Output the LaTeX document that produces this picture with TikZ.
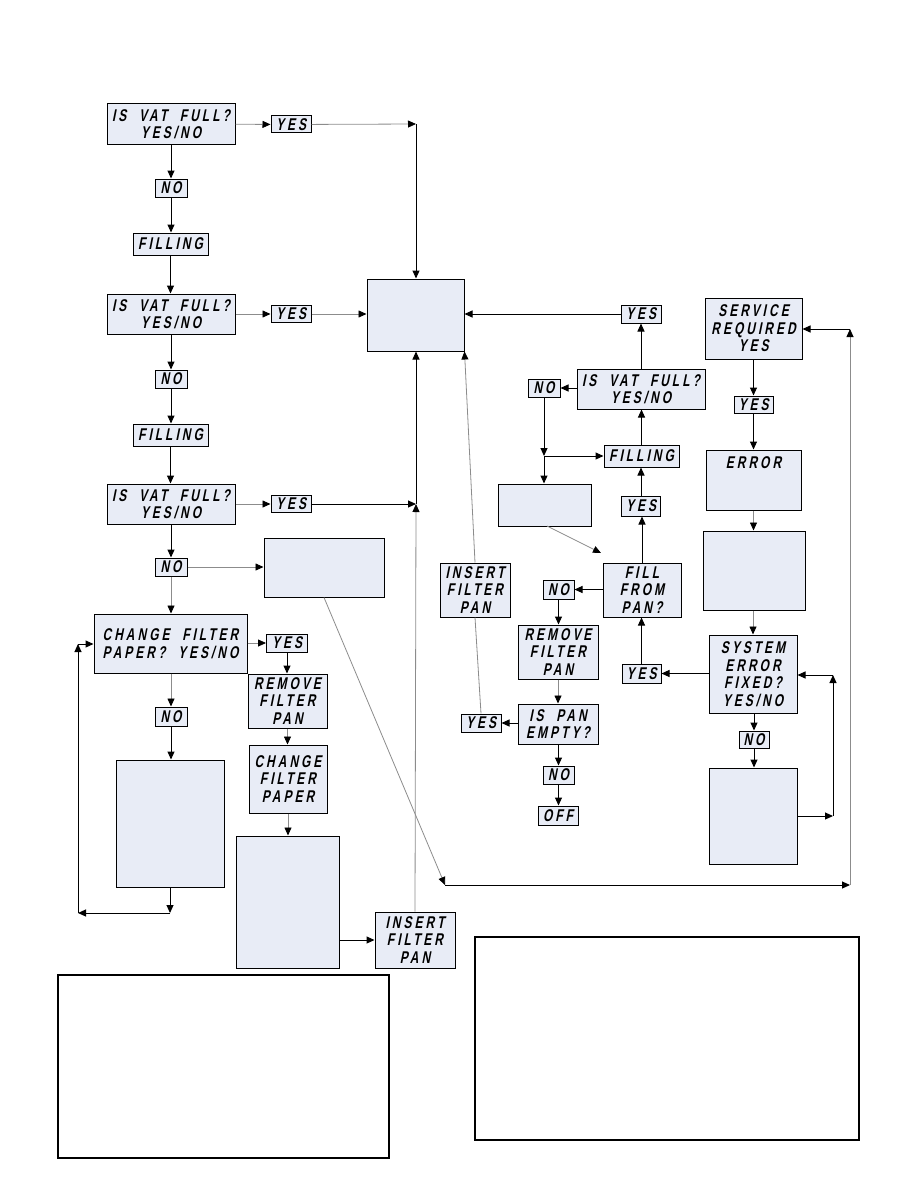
\documentclass[tikz,border=0pt]{standalone}
\usepackage{fontspec}
\usetikzlibrary{arrows.meta}
\newfontfamily\lcdface[FakeSlant=0.2, FakeStretch=0.7, LetterSpace=18, WordSpace=2]{Liberation Sans Bold}
\newcommand{\lcdtext}{\lcdface\fontsize{17}{17.5}\selectfont}
\definecolor{lcdfill}{RGB}{232,236,246}

\begin{document}
\begin{tikzpicture}[
    x=1pt, y=-1pt,
    % display boxes and connectors
    lcd/.style={rectangle, draw, fill=lcdfill, line width=1pt, inner sep=0pt, align=center, font=\lcdtext},
    sz/.style 2 args={minimum width=#1pt, minimum height=#2pt},
    note/.style={draw, line width=1.2pt},
    flow/.style={-{Triangle[length=8pt,width=7pt,color=black]}, draw, line width=1pt},
    thin/.style={flow, draw=black!45, line width=0.8pt},
    link/.style={draw=black!45, line width=0.8pt}
  ]
  \useasboundingbox (0,0) rectangle (918,1188);

  % Left column: filling the vat
  \node[lcd, sz={128}{40}] (vat1) at (171,124) {IS VAT FULL?\\YES/NO};
  \node[lcd, sz={40}{17}] (yes1) at (291,124.5) {YES};
  \node[lcd, sz={32}{18}] (no1) at (171,188) {NO};
  \node[lcd, sz={75}{22}] (fil1) at (170.5,244) {FILLING};
  \node[lcd, sz={128}{40}] (vat2) at (171,314) {IS VAT FULL?\\YES/NO};
  \node[lcd, sz={40}{17}] (yes2) at (291,314) {YES};
  \node[lcd, sz={32}{18}] (no2) at (171,379) {NO};
  \node[lcd, sz={75}{22}] (fil2) at (170.5,435) {FILLING};
  \node[lcd, sz={128}{40}] (vat3) at (171,504) {IS VAT FULL?\\YES/NO};
  \node[lcd, sz={40}{17}] (yes3) at (291,504) {YES};
  \node[lcd, sz={32}{18}] (no3) at (171,567) {NO};
  \node[lcd, sz={120}{59}] (msg1) at (324,567.5) {};
  \node[lcd, sz={153}{59}] (chg) at (170.5,643.5) {CHANGE FILTER\\PAPER? YES/NO};
  \node[lcd, sz={41}{18}] (yes4) at (287,643) {YES};
  \node[lcd, sz={79}{54}] (rem1) at (287.5,701) {REMOVE\\FILTER\\PAN};
  \node[lcd, sz={78}{68}] (cfp) at (288,779) {CHANGE\\FILTER\\PAPER};
  \node[lcd, sz={103}{132}] (msg3) at (287.5,902) {};
  \node[lcd, sz={80}{56}] (ins1) at (415,940) {INSERT\\FILTER\\PAN};
  \node[lcd, sz={32}{19}] (no4) at (171,716.5) {NO};
  \node[lcd, sz={108}{127}] (msg2) at (170,823.5) {};

  % Middle: cooking state and pan fill
  \node[lcd, sz={97}{72}] (ready) at (415.5,315) {};
  \node[lcd, sz={40}{18}] (yes5) at (641,314) {YES};
  \node[lcd, sz={128}{40}] (vat4) at (641,389) {IS VAT FULL?\\YES/NO};
  \node[lcd, sz={32}{18}] (no5) at (544,388) {NO};
  \node[lcd, sz={75}{22}] (fil3) at (641.5,456) {FILLING};
  \node[lcd, sz={39}{20}] (yes6) at (641,506) {YES};
  \node[lcd, sz={93}{42}] (msg4) at (544.5,505) {};
  \node[lcd, sz={78}{54}] (fpan) at (642,590) {FILL\\FROM\\PAN?};
  \node[lcd, sz={70}{54}] (ins2) at (475,590) {INSERT\\FILTER\\PAN};
  \node[lcd, sz={31}{19}] (no6) at (558.5,589.5) {NO};
  \node[lcd, sz={80}{54}] (rem2) at (558,652) {REMOVE\\FILTER\\PAN};
  \node[lcd, sz={80}{40}] (ispan) at (558,724) {IS PAN\\EMPTY?};
  \node[lcd, sz={40}{18}] (yes7) at (481,723) {YES};
  \node[lcd, sz={31}{18}] (no7) at (558.5,775) {NO};
  \node[lcd, sz={40}{19}] (off) at (558,815.5) {OFF};

  % Right column: service and errors
  \node[lcd, sz={97}{61}] (svc) at (753.5,328.5) {SERVICE\\REQUIRED\\YES};
  \node[lcd, sz={39}{17}] (yes8) at (753.5,404.5) {YES};
  \node[lcd, sz={95}{60}, label={[font=\lcdtext, anchor=north, yshift=-4pt]north:ERROR}] (err) at (753.5,480) {};
  \node[lcd, sz={102}{79}] (msg5) at (754,570.5) {};
  \node[lcd, sz={88}{78}] (fix) at (753,674) {SYSTEM\\ERROR\\FIXED?\\YES/NO};
  \node[lcd, sz={39}{19}] (yes9) at (641.5,673.5) {YES};
  \node[lcd, sz={30}{17}] (no8) at (754,739.5) {NO};
  \node[lcd, sz={88}{96}] (msg6) at (753,816) {};

  % Note frames
  \draw[note] (58,975) rectangle (389,1158);
  \draw[note] (475,937) rectangle (859,1140);

  % Bend points
  \coordinate (j1) at (416,124);
  \coordinate (j3) at (416,504);
  \coordinate (loopA) at (170,913);
  \coordinate (loopB) at (78,913);
  \coordinate (loopC) at (78,644);
  \coordinate (diagEnd) at (445,885);
  \coordinate (cornerR) at (850,885);
  \coordinate (cornerT) at (850,329);
  \coordinate (fixA) at (833,816);
  \coordinate (fixB) at (833,675);
  \coordinate (jn) at (544,456);
  \coordinate (fpanTip) at (601,553);

  % Left column flow
  \draw[thin] (vat1) -- (yes1);
  \draw[thin] (yes1) -- (j1);
  \draw[flow] (j1) -- (j1 |- ready.north);
  \draw[flow] (vat1) -- (no1);
  \draw[flow] (no1.south) -- (no1.south |- fil1.north);
  \draw[flow] (fil1.south) -- (fil1.south |- vat2.north);
  \draw[thin] (vat2) -- (yes2);
  \draw[thin] (yes2) -- (yes2 -| ready.west);
  \draw[flow] (vat2) -- (no2);
  \draw[flow] (no2.south) -- (no2.south |- fil2.north);
  \draw[flow] (fil2.south) -- (fil2.south |- vat3.north);
  \draw[thin] (vat3) -- (yes3);
  \draw[flow] (yes3) -- (j3);
  \draw[flow] (j3) -- (j3 |- ready.south);
  \draw[thin] (ins1.north) -- (j3);
  \draw[flow] (vat3) -- (no3);
  \draw[thin] (no3) -- (no3 -| msg1.west);
  \draw[thin] (no3.south) -- (no3.south |- chg.north);
  \draw[thin] (chg.east |- yes4) -- (yes4);
  \draw[flow] (yes4) -- (yes4 |- rem1.north);
  \draw[thin] (rem1) -- (rem1 |- cfp.north);
  \draw[thin] (cfp) -- (cfp |- msg3.north);
  \draw[flow] (msg3.east |- ins1) -- (ins1);
  \draw[thin] (chg.south -| no4) -- (no4);
  \draw[flow] (no4.south) -- (no4.south |- msg2.north);
  \draw[flow] (msg2.south) -- (loopA);
  \draw[flow] (loopA) -- (loopB);
  \draw[flow] (loopB) -- (loopC);
  \draw[flow] (loopC) -- (loopC -| chg.west);
  \draw[thin] (msg1.south) -- (diagEnd);
  \draw[flow] (diagEnd) -- (cornerR);
  \draw[thin] (cornerR) -- (cornerT);
  \draw[flow] (cornerT) -- (cornerT -| svc.east);

  % Middle flow
  \draw[flow] (yes5) -- (yes5 -| ready.east);
  \draw[flow] (vat4) -- (yes5);
  \draw[flow] (vat4.west |- no5) -- (no5);
  \draw[flow] (no5.south) -- (jn);
  \draw[flow] (jn) -- (jn |- msg4.north);
  \draw[flow] (jn) -- (jn -| fil3.west);
  \draw[flow] (fil3) -- (fil3 |- vat4.south);
  \draw[flow] (yes6) -- (yes6 |- fil3.south);
  \draw[flow] (fpan) -- (fpan |- yes6.south);
  \draw[thin] (547,526) -- (fpanTip);
  \draw[flow] (fpan.west |- no6) -- (no6);
  \draw[flow] (no6.south) -- (no6.south |- rem2.north);
  \draw[thin] (rem2) -- (rem2 |- ispan.north);
  \draw[flow] (ispan.west |- yes7) -- (yes7);
  \draw[flow] (ispan.south -| no7) -- (no7);
  \draw[flow] (no7.south) -- (no7.south |- off.north);
  \draw[link] (yes7.north) -- (ins2.south);
  \draw[thin] (ins2.north) -- (ready.south east);

  % Right column flow
  \draw[flow] (svc) -- (yes8);
  \draw[flow] (yes8) -- (err);
  \draw[thin] (err) -- (err |- msg5.north);
  \draw[thin] (msg5.south -| fix) -- (fix);
  \draw[flow] (fix.west |- yes9) -- (yes9);
  \draw[flow] (yes9) -- (yes9 |- fpan.south);
  \draw[flow] (fix.south -| no8) -- (no8);
  \draw[flow] (no8.south) -- (no8.south |- msg6.north);
  \draw[flow] (msg6.east |- fixA) -- (fixA);
  \draw[flow] (fixA) -- (fixB);
  \draw[flow] (fixB) -- (fixB -| fix.east);
\end{tikzpicture}
\end{document}
